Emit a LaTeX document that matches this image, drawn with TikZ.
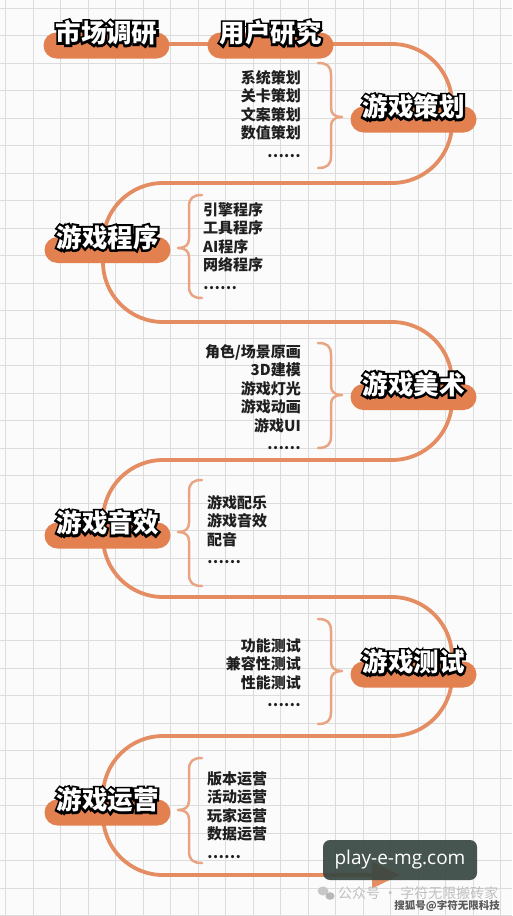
\documentclass[tikz,border=0pt]{standalone}
\usepackage{fontspec}
\newfontfamily\cjk{Noto Sans CJK SC}
\newfontfamily\latinsans{Open Sans}
\font\olbf="Noto Sans CJK SC/B:embolden=17" at 25.5pt
\usetikzlibrary{arrows.meta,calc}
\definecolor{pillc}{HTML}{E2804F}
\definecolor{flowc}{HTML}{E58D62}
\definecolor{bracec}{HTML}{E9A483}
\definecolor{gridc}{HTML}{DCDCDC}
\definecolor{boxc}{HTML}{34443F}
\definecolor{bgc}{HTML}{FBFBFB}
\newcommand\olt[1]{\rlap{\special{pdf:literal direct 0 0 0 RG 1 1 1 rg}\olbf #1}\textcolor{white}{#1}}
\tikzset{
  pill/.style={fill=pillc, rounded corners=13pt, minimum width=126pt, minimum height=26pt, inner sep=0pt},
  flow/.style={draw=flowc, line width=3.8pt, rounded corners=60pt},
  ttl/.style={font=\cjk\bfseries\fontsize{25.5}{25.5}\selectfont, inner sep=0pt},
  items/.style={font=\cjk\bfseries\fontsize{15}{18.5}\selectfont, inner sep=0pt, text=black!88},
  bracestyle/.style={draw=bracec, line width=2.5pt, line cap=round, line join=round},
  gridline/.style={draw=gridc, line width=0.9pt},
}
\newcommand\rbr[4]{%
  \draw[bracestyle] (#1,#2) .. controls (#1+9,#2) and (#1+13,#2+3) .. (#1+13,#2+12) -- (#1+13,#4-9) .. controls (#1+13,#4-3) and (#1+17,#4) .. (#1+24,#4) .. controls (#1+17,#4) and (#1+13,#4+3) .. (#1+13,#4+9) -- (#1+13,#3-12) .. controls (#1+13,#3-3) and (#1+9,#3) .. (#1,#3);
}
\newcommand\lbr[4]{%
  \draw[bracestyle] (#1,#2) .. controls (#1-9,#2) and (#1-13,#2+3) .. (#1-13,#2+12) -- (#1-13,#4-9) .. controls (#1-13,#4-3) and (#1-17,#4) .. (#1-24,#4) .. controls (#1-17,#4) and (#1-13,#4+3) .. (#1-13,#4+9) -- (#1-13,#3-12) .. controls (#1-13,#3-3) and (#1-9,#3) .. (#1,#3);
}
\begin{document}
\begin{tikzpicture}[x=1pt,y=-1pt]
\fill[bgc] (0,0) rectangle (512,916);
\useasboundingbox (0,0) rectangle (512,916);
\foreach \i in {0,...,18} \draw[gridline] (5.5+27.5*\i,0) -- ++(0,916);
\foreach \j in {0,...,33} \draw[gridline] (0,8+27.5*\j) -- ++(512,0);

% pill anchors
\coordinate (p1) at (106.5,45.5);
\coordinate (p2) at (270.5,45.5);
\coordinate (p3) at (413.5,119.5);
\coordinate (p4) at (107.5,250);
\coordinate (p5) at (413.5,397);
\coordinate (p6) at (107.5,535.5);
\coordinate (p7) at (413.5,674.5);
\coordinate (p8) at (107.5,812.5);

% corner coordinates of the flow line
\coordinate (c1) at (452,44);
\coordinate (c2) at (452,183);
\coordinate (c3) at (103,183);
\coordinate (c4) at (103,322);
\coordinate (c5) at (452,322);
\coordinate (c6) at (452,460);
\coordinate (c7) at (103,460);
\coordinate (c8) at (103,597);
\coordinate (c9) at (452,597);
\coordinate (c10) at (452,736);
\coordinate (c11) at (103,736);
\coordinate (c12) at (103,875);
\coordinate (fend) at (400,875);
\coordinate (s1) at (106.5,44);
\coordinate (s2) at (270.5,44);

\draw[flow] (s1) -- (s2);
\draw[flow, -{Triangle[length=28pt,width=26pt]}] (s2) -- (c1) -- (c2) -- (c3) -- (c4) -- (c5) -- (c6) -- (c7) -- (c8) -- (c9) -- (c10) -- (c11) -- (c12) -- (fend);

% pills on top of the flow
\node[pill] (b1) at (p1) {};
\node[pill] (b2) at (p2) {};
\node[pill] (b3) at (p3) {};
\node[pill] (b4) at (p4) {};
\node[pill] (b5) at (p5) {};
\node[pill] (b6) at (p6) {};
\node[pill] (b7) at (p7) {};
\node[pill] (b8) at (p8) {};

% titles
\node[ttl] (t1) at ($(p1)+(0,-12.5)$) {\olt{市场调研}};
\node[ttl] (t2) at ($(p2)+(0,-12.5)$) {\olt{用户研究}};
\node[ttl] (t3) at ($(p3)+(0,-12.5)$) {\olt{游戏策划}};
\node[ttl] (t4) at ($(p4)+(0,-12.5)$) {\olt{游戏程序}};
\node[ttl] (t5) at ($(p5)+(0,-12.5)$) {\olt{游戏美术}};
\node[ttl] (t6) at ($(p6)+(0,-12.5)$) {\olt{游戏音效}};
\node[ttl] (t7) at ($(p7)+(0,-12.5)$) {\olt{游戏测试}};
\node[ttl] (t8) at ($(p8)+(0,-12.5)$) {\olt{游戏运营}};

% braces
\rbr{318}{63}{168}{117}
\lbr{202}{195}{298}{248}
\rbr{318}{343}{448}{395}
\lbr{202}{480}{586}{532}
\rbr{318}{619}{724}{671}
\lbr{202}{758}{863}{810}

% lists
\node[items, align=right, anchor=north east] (l1) at (301,70) {系统策划\\关卡策划\\文案策划\\数值策划\\……};
\node[items, align=left, anchor=north west] (l2) at (203,202) {引擎程序\\工具程序\\AI程序\\网络程序\\……};
\node[items, align=right, anchor=north east] (l3) at (301,344) {角色/场景原画\\3D建模\\游戏灯光\\游戏动画\\游戏UI\\……};
\node[items, align=left, anchor=north west] (l4) at (207,495) {游戏配乐\\游戏音效\\配音\\……};
\node[items, align=right, anchor=north east] (l5) at (301,638) {功能测试\\兼容性测试\\性能测试\\……};
\node[items, align=left, anchor=north west] (l6) at (207,771) {版本运营\\活动运营\\玩家运营\\数据运营\\……};

% watermark box
\node[fill=boxc, fill opacity=0.9, text opacity=1, rounded corners=7pt, minimum width=154pt, minimum height=40pt, inner sep=0pt, text=white, font=\latinsans\fontsize{19}{19}\selectfont] (wm) at (400,860) {play-e-mg.com};
\fill[black!22] (323,891) ellipse (5.5pt and 4.5pt);
\fill[black!28] (330,896) ellipse (4.5pt and 3.8pt);
\node[font=\cjk\fontsize{14}{14}\selectfont, text=black!25, anchor=west, inner sep=0pt] (wm2) at (338,893) {公众号 · 字符无限搬砖家};
\node[font=\cjk\bfseries\fontsize{10.5}{10.5}\selectfont, text=black!65, anchor=east, inner sep=0pt] (wm3) at (500,906) {搜狐号@字符无限科技};
\end{tikzpicture}
\end{document}
